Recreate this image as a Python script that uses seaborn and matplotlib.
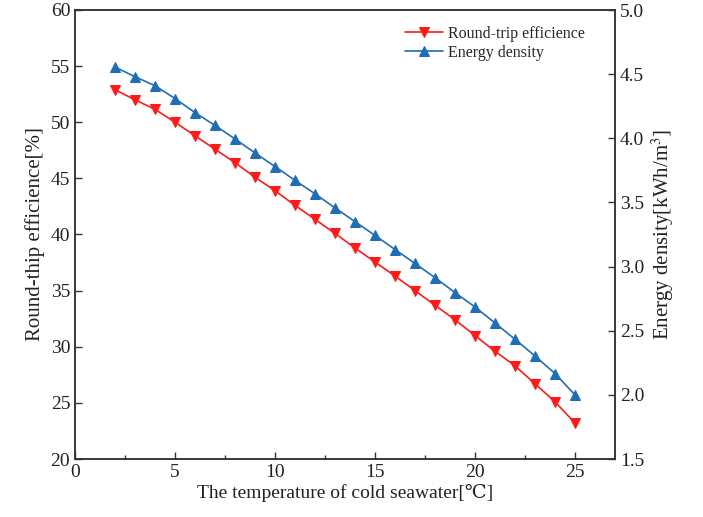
import matplotlib
matplotlib.use("Agg")
import matplotlib.pyplot as plt
import seaborn as sns
import pandas as pd
from matplotlib.ticker import MultipleLocator

temperature = list(range(2, 26))
efficiency = [52.9, 52.0, 51.15, 50.0, 48.8, 47.6, 46.4, 45.1, 43.9, 42.6, 41.35, 40.1,
              38.8, 37.55, 36.3, 35.0, 33.7, 32.4, 31.0, 29.6, 28.3, 26.7, 25.1, 23.2]
energy_density = [4.555, 4.48, 4.41, 4.31, 4.20, 4.10, 3.995, 3.886, 3.78, 3.672, 3.567, 3.458,
                  3.35, 3.243, 3.133, 3.024, 2.914, 2.797, 2.685, 2.56, 2.433, 2.303, 2.166, 2.0]

df = pd.DataFrame({"T": temperature, "eff": efficiency, "ed": energy_density})

sns.set_style("ticks")
plt.rcParams["font.family"] = ["Liberation Serif", "DejaVu Serif"]
plt.rcParams["mathtext.fontset"] = "stix"

RED = "#ff1a1a"
BLUE = "#1f6db5"

fig = plt.figure(figsize=(7.03, 5.17), dpi=100)
ax = fig.add_axes([75/703, 1 - 459/517, (615-75)/703, (459-10)/517])
ax2 = ax.twinx()

sns.lineplot(data=df, x="T", y="eff", ax=ax, color=RED, marker="v", markersize=7,
             markeredgecolor=RED, linewidth=1.2, label="Round-trip efficience", legend=False)
sns.lineplot(data=df, x="T", y="ed", ax=ax2, color=BLUE, marker="^", markersize=7,
             markeredgecolor=BLUE, linewidth=1.2, label="Energy density", legend=False)

ax.set_xlim(0, 27)
ax.set_ylim(20, 60)
ax2.set_ylim(1.5, 5.0)
ax.xaxis.set_major_locator(MultipleLocator(5))
ax.xaxis.set_minor_locator(MultipleLocator(2.5))
ax.yaxis.set_major_locator(MultipleLocator(5))
ax2.yaxis.set_major_locator(MultipleLocator(0.5))
ax2.yaxis.set_major_formatter(matplotlib.ticker.FormatStrFormatter("%.1f"))

for a in (ax, ax2):
    a.tick_params(axis="both", which="major", direction="in", length=5, width=1,
                  labelsize=14, color="#333333", labelcolor="#222222")
    a.tick_params(axis="both", which="minor", direction="in", length=3, width=1, color="#333333")
    for s in a.spines.values():
        s.set_linewidth(1.1)
        s.set_color("#333333")

ax.set_xlabel("The temperature of cold seawater[℃]", fontsize=14, color="#222222", labelpad=2)
ax.set_ylabel("Round-thip efficience[%]", fontsize=15, color="#222222", labelpad=4)
ax2.set_ylabel("Energy density[kWh/m$^3$]", fontsize=15, color="#222222", labelpad=4)

h1, l1 = ax.get_legend_handles_labels()
h2, l2 = ax2.get_legend_handles_labels()
ax2.legend(h1 + h2, l1 + l2, loc="upper left", bbox_to_anchor=(0.59, 0.99), frameon=False,
           fontsize=11.5, handlelength=2.4, labelspacing=0.2, handletextpad=0.3, borderaxespad=0.3)

fig.savefig("out.png", dpi=100)
